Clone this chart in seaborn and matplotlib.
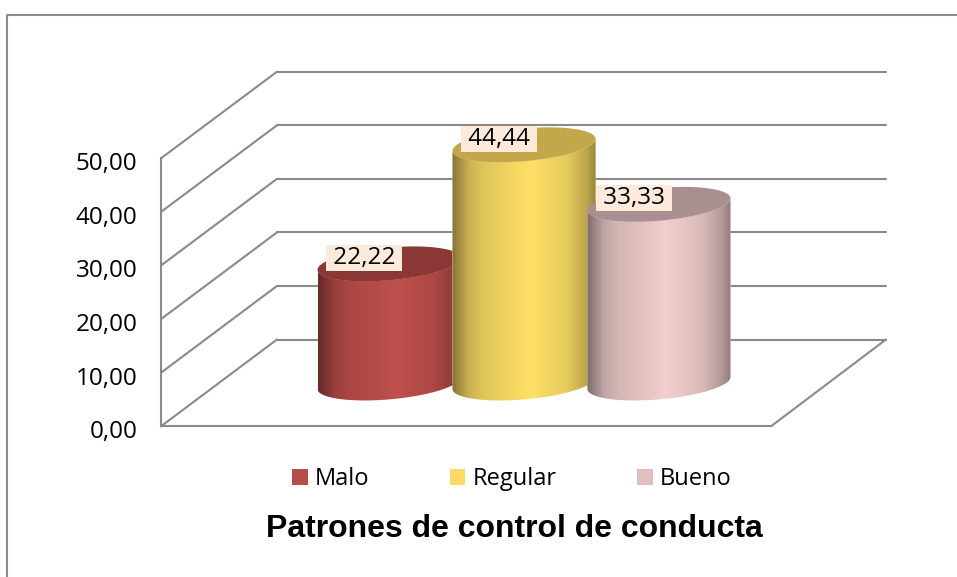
import matplotlib
matplotlib.use('Agg')
import matplotlib.pyplot as plt
from matplotlib.colors import to_rgb
from matplotlib.lines import Line2D
from matplotlib.patches import ConnectionPatch, Patch, Polygon
from matplotlib.transforms import ScaledTranslation
import numpy as np
import seaborn as sns

categories = ['Malo', 'Regular', 'Bueno']
values = [22.22, 44.44, 33.33]
value_labels = ['22,22', '44,44', '33,33']
y_ticks = [0, 10, 20, 30, 40, 50]
y_tick_labels = ['0,00', '10,00', '20,00', '30,00', '40,00', '50,00']
title = 'Patrones de control de conducta'

body_colors = ['#c0504d', '#ffe066', '#f2cfce']
top_colors = ['#8a3735', '#c3a74a', '#a98f90']
legend_colors = ['#b84c4a', '#ffd966', '#e0bfc0']
line_color = '#8a8a8a'
label_bg = '#fdeada'

W, H = 957, 577
sns.set_theme(style='white')
plt.rcParams['font.family'] = ['Open Sans', 'DejaVu Sans']

fig = plt.figure(figsize=(W / 100, H / 100), dpi=100)


def box(x0, x1, y_bottom, y_top):
    # pixel box, measured from the top left of the picture
    return [x0 / W, 1 - y_bottom / H, (x1 - x0) / W, (y_bottom - y_top) / H]


# the frame only has a top and left side
fig.add_artist(Line2D([7 / W, 7 / W, 1], [0, 1 - 15 / H, 1 - 15 / H], color=line_color, lw=1.5))

ax_back = fig.add_axes(box(277, 886, 339.5, 71.7), facecolor='none', zorder=1)
ax_front = fig.add_axes(box(161, 771, 426.3, 158.3), facecolor='none', zorder=2)
# goes 10 units below zero so the round base of the cylinders is not cut off
ax_mid = fig.add_axes(box(219, 829, 436.6, 115), facecolor='none', zorder=4)

for ax in (ax_back, ax_front):
    ax.set_xlim(0, 1)
    ax.set_ylim(0, 50)
    ax.set_xticks([])
    ax.set_yticks(y_ticks)

# back wall
sns.despine(ax=ax_back, left=True, bottom=True)
ax_back.set_yticklabels([])
ax_back.grid(axis='y', color=line_color, lw=1.5)
ax_back.tick_params(left=False)
for gl in ax_back.get_ygridlines():
    gl.set_clip_on(False)

# front axis
sns.despine(ax=ax_front)
ax_front.spines['left'].set_color(line_color)
ax_front.spines['bottom'].set_color(line_color)
ax_front.spines['left'].set_linewidth(1.5)
ax_front.spines['bottom'].set_linewidth(1.5)
ax_front.tick_params(left=False, pad=11)
ax_front.set_yticklabels(y_tick_labels, fontsize=17.5, color='black')
shift = ScaledTranslation(0, -3 / 100, fig.dpi_scale_trans)
for lab in ax_front.get_yticklabels():
    lab.set_transform(lab.get_transform() + shift)

# depth lines between the front axis and the back wall
for v in y_ticks:
    fig.add_artist(ConnectionPatch((0, v), (0, v), 'data', 'data', axesA=ax_front, axesB=ax_back,
                                   color=line_color, lw=1.5, shrinkA=0, shrinkB=0, zorder=3))
fig.add_artist(ConnectionPatch((1, 0), (1, 0), 'data', 'data', axesA=ax_front, axesB=ax_back,
                               color=line_color, lw=1.5, shrinkA=0, shrinkB=0, zorder=3))

# cylinders, the bars come from seaborn and get their round shape below
sns.barplot(x=categories, y=values, hue=categories, palette=body_colors, width=1.06,
            legend=False, ax=ax_mid)
ax_mid.axis('off')

ry = 16.4 / 5.36
tilt = 6 / 5.36


def arc(cx, cy, half_w, t):
    return np.column_stack([cx + half_w * np.cos(t), cy + tilt * np.cos(t) + ry * np.sin(t)])


shade_pos = np.array([0, 0.12, 0.22, 0.55, 0.8, 0.93, 1])
shade_val = np.array([0.52, 0.8, 0.88, 1, 0.9, 0.75, 0.6])
ramp = np.interp(np.linspace(0, 1, 256), shade_pos, shade_val)

for i, bar in enumerate(ax_mid.patches):
    cx = bar.get_x() + bar.get_width() / 2
    half_w = bar.get_width() / 2
    v = bar.get_height()
    lower = np.linspace(np.pi, 2 * np.pi, 80)
    body = np.vstack([arc(cx, 0, half_w, lower), arc(cx, v, half_w, lower)[::-1]])
    body_patch = Polygon(body, closed=True, transform=ax_mid.transData, fc='none', ec='none')
    ax_mid.add_patch(body_patch)
    bar.set_clip_path(body_patch)
    bar.set_zorder(10 + i * 3)

    rgb = np.array(to_rgb(body_colors[i]))
    img = ramp[None, :, None] * rgb[None, None, :]
    im = ax_mid.imshow(img, extent=(cx - half_w, cx + half_w, -ry - tilt, v + ry + tilt),
                       aspect='auto', zorder=11 + i * 3, interpolation='bilinear')
    im.set_clip_path(body_patch)

    full = np.linspace(0, 2 * np.pi, 160)
    ax_mid.add_patch(Polygon(arc(cx, v, half_w, full), closed=True, fc=top_colors[i], ec='none',
                             zorder=12 + i * 3))

    ax_mid.annotate(f' {value_labels[i]} ', (cx, v), xytext=(-25, 6), textcoords='offset pixels',
                    ha='center', va='center', fontsize=17.5, color='black', zorder=30,
                    bbox=dict(boxstyle='square,pad=0.04', fc=label_bg, ec='none'))

ax_mid.set_xlim(-1.26, 3.26)
ax_mid.set_ylim(-10, 50)

handles = [Patch(fc=c, ec='none', label=n) for c, n in zip(legend_colors, categories)]
fig.legend(handles=handles, loc='center', bbox_to_anchor=(512 / W, 1 - 479 / H), ncol=3,
           frameon=False, fontsize=17, handlelength=0.65, handleheight=0.65, handletextpad=0.32,
           columnspacing=3.4, borderpad=0, labelcolor='black')

fig.text(514.5 / W, 1 - 537 / H, title, ha='center', va='baseline', fontsize=23,
         fontweight='bold', family='Liberation Sans', color='black')

fig.savefig('out.png', dpi=100, facecolor='white')
